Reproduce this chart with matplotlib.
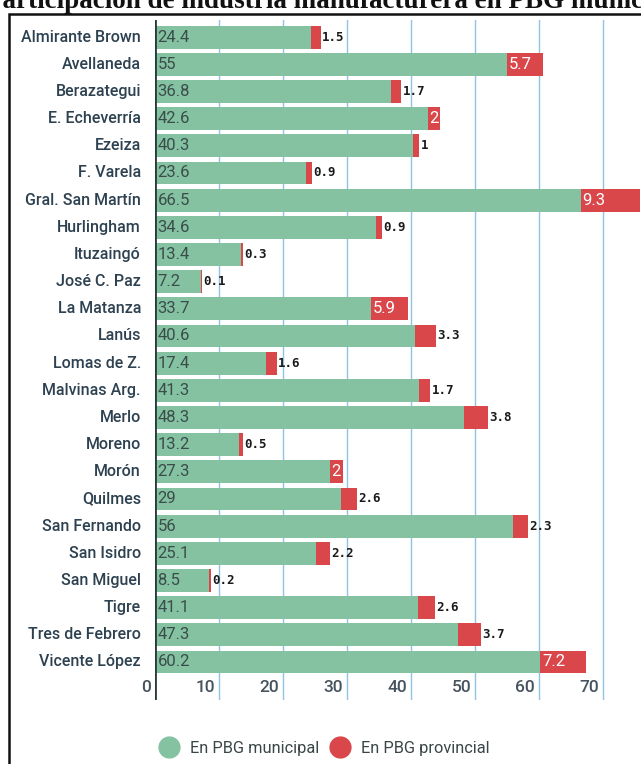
import matplotlib
matplotlib.use("Agg")
import matplotlib.pyplot as plt
from matplotlib.lines import Line2D
from matplotlib.patches import Rectangle

municipios = ["Almirante Brown", "Avellaneda", "Berazategui", "E. Echeverría", "Ezeiza",
              "F. Varela", "Gral. San Martín", "Hurlingham", "Ituzaingó", "José C. Paz",
              "La Matanza", "Lanús", "Lomas de Z.", "Malvinas Arg.", "Merlo", "Moreno",
              "Morón", "Quilmes", "San Fernando", "San Isidro", "San Miguel", "Tigre",
              "Tres de Febrero", "Vicente López"]
pbg_municipal = [24.4, 55, 36.8, 42.6, 40.3, 23.6, 66.5, 34.6, 13.4, 7.2, 33.7, 40.6,
                 17.4, 41.3, 48.3, 13.2, 27.3, 29, 56, 25.1, 8.5, 41.1, 47.3, 60.2]
pbg_provincial = [1.5, 5.7, 1.7, 2, 1, 0.9, 9.3, 0.9, 0.3, 0.1, 5.9, 3.3,
                  1.6, 1.7, 3.8, 0.5, 2, 2.6, 2.3, 2.2, 0.2, 2.6, 3.7, 7.2]
# labels drawn inside the red segment in the original
inside = {"Avellaneda", "E. Echeverría", "Gral. San Martín", "La Matanza", "Morón", "Vicente López"}
xticks = [0, 10, 20, 30, 40, 50, 60, 70]

green = "#84c2a2"
red = "#d9474b"
label_col = "#2d4150"
grid_col = "#8ec3e2"

W, H = 641, 764
fig = plt.figure(figsize=(W / 100, H / 100), dpi=100)
fig.patch.set_facecolor("white")

# frame around the graphic (runs off the right and bottom edges)
fig.patches.append(Rectangle((9 / W, -0.05), 1.2, 1 - 14 / H + 0.05, transform=fig.transFigure,
                             fill=False, edgecolor="#111111", lw=1.8))
fig.text(-14 / W, 1 - 8 / H, "Participación de industria manufacturera en PBG municipal",
         fontsize=19.5, fontweight="bold", family="Liberation Serif", color="#111111",
         ha="left", va="baseline")

ax = fig.add_axes([155 / W, 1 - 700 / H, 486.4 / W, 680 / H])
n = len(municipios)
y = list(range(n))
ax.set_xlim(0, 76)
ax.set_ylim(n - 1 + 1.4, -0.63)

for xv in xticks[1:]:
    ax.axvline(xv, color=grid_col, lw=1, zorder=0)

ax.barh(y, pbg_municipal, height=0.84, color=green, zorder=2)
ax.barh(y, pbg_provincial, left=pbg_municipal, height=0.84, color=red, zorder=2)
ax.axvline(0, color="#263c3c", lw=2, zorder=3)

for i, name in enumerate(municipios):
    ax.text(-2.2, i, name, ha="right", va="center", fontsize=11.5, family="Roboto",
            fontweight="medium", color=label_col)
    ax.text(0.4, i, f"{pbg_municipal[i]:g}", ha="left", va="center", fontsize=12,
            family="Roboto", color="#3b4d4b", zorder=4)
    end = pbg_municipal[i] + pbg_provincial[i]
    if name in inside:
        ax.text(pbg_municipal[i] + 0.3, i, f"{pbg_provincial[i]:g}", ha="left", va="center",
                fontsize=12, family="Roboto", color="white", zorder=4)
    else:
        ax.text(end + 0.2, i, f"{pbg_provincial[i]:g}", ha="left", va="center", fontsize=9,
                family="DejaVu Sans Mono", fontweight="bold", color="#1a1a1a", zorder=4)

for xv in xticks:
    ax.text(xv - 0.6, n - 1 + 0.95, str(xv), ha="right", va="center", fontsize=12.5,
            family="Roboto", fontweight="medium", color="#46535e")

ax.set_xticks([])
ax.set_yticks([])
for s in ax.spines.values():
    s.set_visible(False)

handles = [Line2D([], [], marker="o", ls="", markersize=15, color=green),
           Line2D([], [], marker="o", ls="", markersize=15, color=red)]
fig.legend(handles, ["En PBG municipal", "En PBG provincial"], loc="center",
           bbox_to_anchor=(321 / W, 1 - 748 / H), ncol=2, frameon=False,
           prop={"family": "Roboto", "size": 11.8}, labelcolor="#3a4646",
           handletextpad=0.3, columnspacing=0.25)

fig.savefig("out.png", dpi=100)
